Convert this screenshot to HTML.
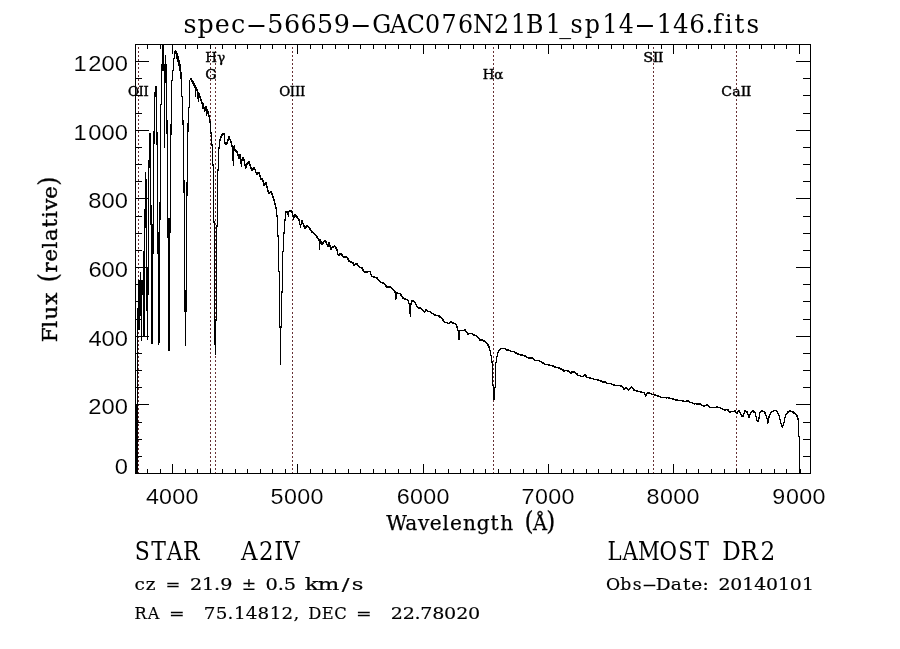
<!DOCTYPE html>
<html lang="en">
<head>
<meta charset="utf-8">
<title>spec-56659-GAC076N21B1_sp14-146.fits</title>
<style>
html,body{margin:0;padding:0;background:#fff;}
body{width:900px;height:649px;overflow:hidden;}
svg{display:block;}
</style>
</head>
<body>
<svg width="900" height="649" viewBox="0 0 900 649">
<rect width="900" height="649" fill="#fff"/>
<path d="M138.5 47v2m0 2v2m0 2v2m0 2v2m0 2v2m0 2v2m0 2v2m0 2v2m0 2v2m0 2v2m0 2v2m0 2v2m0 2v2m0 2v2m0 2v2m0 2v2m0 2v2m0 2v2m0 2v2m0 2v2m0 2v2m0 2v2m0 2v2m0 2v2m0 2v2m0 2v2m0 2v2m0 2v2m0 2v2m0 2v2m0 2v2m0 2v2m0 2v2m0 2v2m0 2v2m0 2v2m0 2v2m0 2v2m0 2v2m0 2v2m0 2v2m0 2v2m0 2v2m0 2v2m0 2v2m0 2v2m0 2v2m0 2v2m0 2v2m0 2v2m0 2v2m0 2v2m0 2v2m0 2v2m0 2v2m0 2v2m0 2v2m0 2v2m0 2v2m0 2v2m0 2v2m0 2v2m0 2v2m0 2v2m0 2v2m0 2v2m0 3v2m0 2v2m0 2v2m0 2v2m0 2v2m0 2v2m0 2v2m0 2v2m0 2v2m0 2v2m0 2v2m0 2v2m0 2v2m0 2v2m0 2v2m0 2v2m0 2v2m0 2v2m0 2v2m0 2v2m0 2v2m0 2v2m0 2v2m0 2v2m0 2v2m0 2v2m0 2v2m0 2v2m0 2v2m0 2v2m0 2v2m0 2v2m0 2v2m0 2v2m0 2v2m0 2v2m0 2v2m0 2v2m0 2v2m0 2v2m0 2v2M210.5 47v2m0 2v2m0 2v2m0 2v2m0 2v2m0 2v2m0 2v2m0 2v2m0 2v2m0 2v2m0 2v2m0 2v2m0 2v2m0 2v2m0 2v2m0 2v2m0 2v2m0 2v2m0 2v2m0 2v2m0 2v2m0 2v2m0 2v2m0 2v2m0 2v2m0 2v2m0 2v2m0 2v2m0 2v2m0 2v2m0 2v2m0 2v2m0 2v2m0 2v2m0 2v2m0 2v2m0 2v2m0 2v2m0 2v2m0 2v2m0 2v2m0 2v2m0 2v2m0 2v2m0 2v2m0 2v2m0 2v2m0 2v2m0 2v2m0 2v2m0 2v2m0 2v2m0 2v2m0 2v2m0 2v2m0 2v2m0 2v2m0 2v2m0 2v2m0 2v2m0 2v2m0 2v2m0 2v2m0 2v2m0 2v2m0 2v2m0 3v2m0 2v2m0 2v2m0 2v2m0 2v2m0 2v2m0 2v2m0 2v2m0 2v2m0 2v2m0 2v2m0 2v2m0 2v2m0 2v2m0 2v2m0 2v2m0 2v2m0 2v2m0 2v2m0 2v2m0 2v2m0 2v2m0 2v2m0 2v2m0 2v2m0 2v2m0 2v2m0 2v2m0 2v2m0 2v2m0 2v2m0 2v2m0 2v2m0 2v2m0 2v2m0 2v2m0 2v2m0 2v2m0 2v2m0 2v2m0 2v2M215.5 47v2m0 2v2m0 2v2m0 2v2m0 2v2m0 2v2m0 2v2m0 2v2m0 2v2m0 2v2m0 2v2m0 2v2m0 2v2m0 2v2m0 2v2m0 2v2m0 2v2m0 2v2m0 2v2m0 2v2m0 2v2m0 2v2m0 2v2m0 2v2m0 2v2m0 2v2m0 2v2m0 2v2m0 2v2m0 2v2m0 2v2m0 2v2m0 2v2m0 2v2m0 2v2m0 2v2m0 2v2m0 2v2m0 2v2m0 2v2m0 2v2m0 2v2m0 2v2m0 2v2m0 2v2m0 2v2m0 2v2m0 2v2m0 2v2m0 2v2m0 2v2m0 2v2m0 2v2m0 2v2m0 2v2m0 2v2m0 2v2m0 2v2m0 2v2m0 2v2m0 2v2m0 2v2m0 2v2m0 2v2m0 2v2m0 2v2m0 3v2m0 2v2m0 2v2m0 2v2m0 2v2m0 2v2m0 2v2m0 2v2m0 2v2m0 2v2m0 2v2m0 2v2m0 2v2m0 2v2m0 2v2m0 2v2m0 2v2m0 2v2m0 2v2m0 2v2m0 2v2m0 2v2m0 2v2m0 2v2m0 2v2m0 2v2m0 2v2m0 2v2m0 2v2m0 2v2m0 2v2m0 2v2m0 2v2m0 2v2m0 2v2m0 2v2m0 2v2m0 2v2m0 2v2m0 2v2m0 2v2M292.5 47v2m0 2v2m0 2v2m0 2v2m0 2v2m0 2v2m0 2v2m0 2v2m0 2v2m0 2v2m0 2v2m0 2v2m0 2v2m0 2v2m0 2v2m0 2v2m0 2v2m0 2v2m0 2v2m0 2v2m0 2v2m0 2v2m0 2v2m0 2v2m0 2v2m0 2v2m0 2v2m0 2v2m0 2v2m0 2v2m0 2v2m0 2v2m0 2v2m0 2v2m0 2v2m0 2v2m0 2v2m0 2v2m0 2v2m0 2v2m0 2v2m0 2v2m0 2v2m0 2v2m0 2v2m0 2v2m0 2v2m0 2v2m0 2v2m0 2v2m0 2v2m0 2v2m0 2v2m0 2v2m0 2v2m0 2v2m0 2v2m0 2v2m0 2v2m0 2v2m0 2v2m0 2v2m0 2v2m0 2v2m0 2v2m0 2v2m0 3v2m0 2v2m0 2v2m0 2v2m0 2v2m0 2v2m0 2v2m0 2v2m0 2v2m0 2v2m0 2v2m0 2v2m0 2v2m0 2v2m0 2v2m0 2v2m0 2v2m0 2v2m0 2v2m0 2v2m0 2v2m0 2v2m0 2v2m0 2v2m0 2v2m0 2v2m0 2v2m0 2v2m0 2v2m0 2v2m0 2v2m0 2v2m0 2v2m0 2v2m0 2v2m0 2v2m0 2v2m0 2v2m0 2v2m0 2v2m0 2v2M493.5 47v2m0 2v2m0 2v2m0 2v2m0 2v2m0 2v2m0 2v2m0 2v2m0 2v2m0 2v2m0 2v2m0 2v2m0 2v2m0 2v2m0 2v2m0 2v2m0 2v2m0 2v2m0 2v2m0 2v2m0 2v2m0 2v2m0 2v2m0 2v2m0 2v2m0 2v2m0 2v2m0 2v2m0 2v2m0 2v2m0 2v2m0 2v2m0 2v2m0 2v2m0 2v2m0 2v2m0 2v2m0 2v2m0 2v2m0 2v2m0 2v2m0 2v2m0 2v2m0 2v2m0 2v2m0 2v2m0 2v2m0 2v2m0 2v2m0 2v2m0 2v2m0 2v2m0 2v2m0 2v2m0 2v2m0 2v2m0 2v2m0 2v2m0 2v2m0 2v2m0 2v2m0 2v2m0 2v2m0 2v2m0 2v2m0 2v2m0 3v2m0 2v2m0 2v2m0 2v2m0 2v2m0 2v2m0 2v2m0 2v2m0 2v2m0 2v2m0 2v2m0 2v2m0 2v2m0 2v2m0 2v2m0 2v2m0 2v2m0 2v2m0 2v2m0 2v2m0 2v2m0 2v2m0 2v2m0 2v2m0 2v2m0 2v2m0 2v2m0 2v2m0 2v2m0 2v2m0 2v2m0 2v2m0 2v2m0 2v2m0 2v2m0 2v2m0 2v2m0 2v2m0 2v2m0 2v2m0 2v2M653.5 47v2m0 2v2m0 2v2m0 2v2m0 2v2m0 2v2m0 2v2m0 2v2m0 2v2m0 2v2m0 2v2m0 2v2m0 2v2m0 2v2m0 2v2m0 2v2m0 2v2m0 2v2m0 2v2m0 2v2m0 2v2m0 2v2m0 2v2m0 2v2m0 2v2m0 2v2m0 2v2m0 2v2m0 2v2m0 2v2m0 2v2m0 2v2m0 2v2m0 2v2m0 2v2m0 2v2m0 2v2m0 2v2m0 2v2m0 2v2m0 2v2m0 2v2m0 2v2m0 2v2m0 2v2m0 2v2m0 2v2m0 2v2m0 2v2m0 2v2m0 2v2m0 2v2m0 2v2m0 2v2m0 2v2m0 2v2m0 2v2m0 2v2m0 2v2m0 2v2m0 2v2m0 2v2m0 2v2m0 2v2m0 2v2m0 2v2m0 3v2m0 2v2m0 2v2m0 2v2m0 2v2m0 2v2m0 2v2m0 2v2m0 2v2m0 2v2m0 2v2m0 2v2m0 2v2m0 2v2m0 2v2m0 2v2m0 2v2m0 2v2m0 2v2m0 2v2m0 2v2m0 2v2m0 2v2m0 2v2m0 2v2m0 2v2m0 2v2m0 2v2m0 2v2m0 2v2m0 2v2m0 2v2m0 2v2m0 2v2m0 2v2m0 2v2m0 2v2m0 2v2m0 2v2m0 2v2m0 2v2M736.5 47v2m0 2v2m0 2v2m0 2v2m0 2v2m0 2v2m0 2v2m0 2v2m0 2v2m0 2v2m0 2v2m0 2v2m0 2v2m0 2v2m0 2v2m0 2v2m0 2v2m0 2v2m0 2v2m0 2v2m0 2v2m0 2v2m0 2v2m0 2v2m0 2v2m0 2v2m0 2v2m0 2v2m0 2v2m0 2v2m0 2v2m0 2v2m0 2v2m0 2v2m0 2v2m0 2v2m0 2v2m0 2v2m0 2v2m0 2v2m0 2v2m0 2v2m0 2v2m0 2v2m0 2v2m0 2v2m0 2v2m0 2v2m0 2v2m0 2v2m0 2v2m0 2v2m0 2v2m0 2v2m0 2v2m0 2v2m0 2v2m0 2v2m0 2v2m0 2v2m0 2v2m0 2v2m0 2v2m0 2v2m0 2v2m0 2v2m0 3v2m0 2v2m0 2v2m0 2v2m0 2v2m0 2v2m0 2v2m0 2v2m0 2v2m0 2v2m0 2v2m0 2v2m0 2v2m0 2v2m0 2v2m0 2v2m0 2v2m0 2v2m0 2v2m0 2v2m0 2v2m0 2v2m0 2v2m0 2v2m0 2v2m0 2v2m0 2v2m0 2v2m0 2v2m0 2v2m0 2v2m0 2v2m0 2v2m0 2v2m0 2v2m0 2v2m0 2v2m0 2v2m0 2v2m0 2v2m0 2v2" fill="none" stroke="#663034" stroke-width="1" shape-rendering="crispEdges"/>
<path d="M135.5 44.5H810.5V473.5H135.5ZM147.5 473.0v-4M147.5 45.0v4M160.5 473.0v-4M160.5 45.0v4M172.5 473.0v-9M172.5 45.0v9M185.5 473.0v-4M185.5 45.0v4M197.5 473.0v-4M197.5 45.0v4M210.5 473.0v-4M210.5 45.0v4M222.5 473.0v-4M222.5 45.0v4M235.5 473.0v-4M235.5 45.0v4M247.5 473.0v-4M247.5 45.0v4M260.5 473.0v-4M260.5 45.0v4M272.5 473.0v-4M272.5 45.0v4M285.5 473.0v-4M285.5 45.0v4M297.5 473.0v-9M297.5 45.0v9M310.5 473.0v-4M310.5 45.0v4M322.5 473.0v-4M322.5 45.0v4M335.5 473.0v-4M335.5 45.0v4M348.5 473.0v-4M348.5 45.0v4M360.5 473.0v-4M360.5 45.0v4M373.5 473.0v-4M373.5 45.0v4M385.5 473.0v-4M385.5 45.0v4M398.5 473.0v-4M398.5 45.0v4M410.5 473.0v-4M410.5 45.0v4M423.5 473.0v-9M423.5 45.0v9M435.5 473.0v-4M435.5 45.0v4M448.5 473.0v-4M448.5 45.0v4M460.5 473.0v-4M460.5 45.0v4M473.5 473.0v-4M473.5 45.0v4M485.5 473.0v-4M485.5 45.0v4M498.5 473.0v-4M498.5 45.0v4M510.5 473.0v-4M510.5 45.0v4M523.5 473.0v-4M523.5 45.0v4M536.5 473.0v-4M536.5 45.0v4M548.5 473.0v-9M548.5 45.0v9M561.5 473.0v-4M561.5 45.0v4M573.5 473.0v-4M573.5 45.0v4M586.5 473.0v-4M586.5 45.0v4M598.5 473.0v-4M598.5 45.0v4M611.5 473.0v-4M611.5 45.0v4M623.5 473.0v-4M623.5 45.0v4M636.5 473.0v-4M636.5 45.0v4M648.5 473.0v-4M648.5 45.0v4M661.5 473.0v-4M661.5 45.0v4M673.5 473.0v-9M673.5 45.0v9M686.5 473.0v-4M686.5 45.0v4M698.5 473.0v-4M698.5 45.0v4M711.5 473.0v-4M711.5 45.0v4M724.5 473.0v-4M724.5 45.0v4M736.5 473.0v-4M736.5 45.0v4M749.5 473.0v-4M749.5 45.0v4M761.5 473.0v-4M761.5 45.0v4M774.5 473.0v-4M774.5 45.0v4M786.5 473.0v-4M786.5 45.0v4M799.5 473.0v-9M799.5 45.0v9M136.0 456.5h6M810.0 456.5h-7M136.0 439.5h6M810.0 439.5h-7M136.0 422.5h6M810.0 422.5h-7M136.0 404.5h13M810.0 404.5h-14M136.0 387.5h6M810.0 387.5h-7M136.0 370.5h6M810.0 370.5h-7M136.0 353.5h6M810.0 353.5h-7M136.0 336.5h13M810.0 336.5h-14M136.0 319.5h6M810.0 319.5h-7M136.0 301.5h6M810.0 301.5h-7M136.0 284.5h6M810.0 284.5h-7M136.0 267.5h13M810.0 267.5h-14M136.0 250.5h6M810.0 250.5h-7M136.0 233.5h6M810.0 233.5h-7M136.0 216.5h6M810.0 216.5h-7M136.0 198.5h13M810.0 198.5h-14M136.0 181.5h6M810.0 181.5h-7M136.0 164.5h6M810.0 164.5h-7M136.0 147.5h6M810.0 147.5h-7M136.0 130.5h13M810.0 130.5h-14M136.0 113.5h6M810.0 113.5h-7M136.0 95.5h6M810.0 95.5h-7M136.0 78.5h6M810.0 78.5h-7M136.0 61.5h13M810.0 61.5h-14" fill="none" stroke="#000" stroke-width="1" shape-rendering="crispEdges"/>
<path d="M136.5 404v69M137.5 308v165M138.5 280v50M139.5 280v50M140.5 272v44M141.5 280v61M142.5 280v15M143.5 251v86M144.5 209v128M145.5 172v56M146.5 179v132M147.5 268v72M148.5 160v135M149.5 133v35M150.5 133v92M151.5 205v139M152.5 224v120M153.5 131v123M154.5 92v52M155.5 86v11M156.5 86v59M157.5 132v122M158.5 232v113M159.5 202v141M160.5 104v116M161.5 64v41M162.5 45v26M163.5 45v26M164.5 64v84M165.5 55v28M166.5 64v70M167.5 120v118M168.5 218v133M169.5 218v133M170.5 124v109M171.5 80v55M172.5 70v11M173.5 58v13M174.5 51v8M175.5 50v4M176.5 51v8M177.5 53v9M178.5 56v10M179.5 60v11M180.5 64v15M181.5 72v25M182.5 96v29M183.5 120v73M184.5 180v132M185.5 290v56M186.5 182v130M187.5 123v73M188.5 107v25M189.5 80v28M190.5 78v2M191.5 78v4M192.5 80v4M193.5 81v5M194.5 83v5M195.5 85v12M196.5 87v4M197.5 89v10M198.5 92v10M199.5 93v5M200.5 96v5M201.5 99v5M202.5 102v7M203.5 103v6M204.5 107v5M205.5 106v5M206.5 106v10M207.5 109v5M208.5 111v6M209.5 115v8M210.5 121v13M211.5 132v14M212.5 144v22M213.5 164v59M214.5 221v124M215.5 319v36M216.5 225v96M217.5 169v58M218.5 147v24M219.5 139v10M220.5 136v5M221.5 134v4M222.5 133v3M223.5 133v2M224.5 133v11M225.5 142v3M226.5 142v3M227.5 139v5M228.5 136v5M229.5 136v4M230.5 139v4M231.5 141v6M232.5 145v16M233.5 146v20M234.5 145v6M235.5 149v3M236.5 150v3M237.5 151v5M238.5 154v5M239.5 154v5M240.5 154v10M241.5 159v8M242.5 157v4M243.5 157v4M244.5 159v7M245.5 164v5M246.5 163v5M247.5 162v3M248.5 161v3M249.5 161v5M250.5 164v5M251.5 167v4M252.5 168v3M253.5 167v3M254.5 167v3M255.5 169v4M256.5 172v3M257.5 172v3M258.5 172v2M259.5 172v5M260.5 175v5M261.5 178v2M262.5 178v4M263.5 180v6M264.5 183v3M265.5 182v3M266.5 182v6M267.5 186v6M268.5 190v4M269.5 192v2M270.5 191v2M271.5 191v4M272.5 193v5M273.5 196v5M274.5 199v6M275.5 203v6M276.5 207v10M277.5 215v22M278.5 235v37M279.5 271v57M280.5 326v39M281.5 291v37M282.5 251v42M283.5 232v20M284.5 219v15M285.5 211v10M286.5 211v2M287.5 211v4M288.5 211v6M289.5 210v2M290.5 210v2M291.5 210v3M292.5 211v6M293.5 215v5M294.5 214v4M295.5 214v3M296.5 215v3M297.5 216v3M298.5 218v3M299.5 219v6M300.5 224v4M301.5 220v5M302.5 220v4M303.5 223v4M304.5 225v4M305.5 226v3M306.5 225v3M307.5 225v2M308.5 226v2M309.5 227v3M310.5 228v3M311.5 230v3M312.5 231v2M313.5 232v2M314.5 233v2M315.5 234v2M316.5 235v3M317.5 236v3M318.5 238v3M319.5 239v11M320.5 239v5M321.5 241v4M322.5 242v3M323.5 241v3M324.5 240v2M325.5 240v3M326.5 241v4M327.5 244v3M328.5 242v5M329.5 242v5M330.5 245v5M331.5 247v3M332.5 246v2M333.5 246v2M334.5 245v2M335.5 246v3M336.5 247v4M337.5 249v6M338.5 254v2M339.5 253v3M340.5 253v2M341.5 253v3M342.5 254v3M343.5 256v2M344.5 256v2M345.5 256v2M346.5 256v2M347.5 257v3M348.5 258v4M349.5 260v2M350.5 261v2M351.5 261v2M352.5 262v2M353.5 262v4M354.5 264v2M355.5 263v2M356.5 263v2M357.5 263v3M358.5 265v2M359.5 266v2M360.5 267v1M361.5 267v2M362.5 267v4M363.5 269v3M364.5 271v2M365.5 271v2M366.5 271v2M367.5 271v2M368.5 271v1M369.5 271v1M370.5 271v4M371.5 274v3M372.5 276v1M373.5 276v2M374.5 276v2M375.5 277v1M376.5 277v2M377.5 277v3M378.5 279v2M379.5 280v2M380.5 281v2M381.5 282v1M382.5 282v2M383.5 282v2M384.5 283v2M385.5 284v3M386.5 285v3M387.5 286v2M388.5 286v2M389.5 286v2M390.5 286v2M391.5 287v2M392.5 288v2M393.5 289v2M394.5 290v3M395.5 291v9M396.5 292v7M397.5 292v2M398.5 293v1M399.5 293v1M400.5 293v3M401.5 294v3M402.5 296v3M403.5 297v2M404.5 298v2M405.5 298v2M406.5 299v1M407.5 299v2M408.5 300v4M409.5 303v11M410.5 303v14M411.5 300v5M412.5 300v2M413.5 300v2M414.5 301v2M415.5 302v3M416.5 304v3M417.5 306v2M418.5 307v2M419.5 307v2M420.5 307v2M421.5 308v2M422.5 309v2M423.5 310v2M424.5 311v2M425.5 309v3M426.5 309v2M427.5 310v2M428.5 311v1M429.5 311v1M430.5 311v2M431.5 312v2M432.5 313v1M433.5 313v2M434.5 314v2M435.5 314v2M436.5 315v1M437.5 315v1M438.5 315v2M439.5 315v3M440.5 316v2M441.5 317v2M442.5 318v3M443.5 319v3M444.5 321v2M445.5 322v1M446.5 322v1M447.5 322v2M448.5 323v1M449.5 322v2M450.5 321v2M451.5 321v2M452.5 322v2M453.5 322v2M454.5 323v1M455.5 323v2M456.5 324v4M457.5 326v5M458.5 330v10M459.5 330v10M460.5 330v1M461.5 330v1M462.5 330v1M463.5 330v1M464.5 329v2M465.5 329v3M466.5 331v2M467.5 332v3M468.5 333v2M469.5 333v1M470.5 333v1M471.5 333v1M472.5 333v2M473.5 334v2M474.5 334v2M475.5 335v1M476.5 335v2M477.5 336v2M478.5 337v2M479.5 338v3M480.5 339v2M481.5 339v2M482.5 339v2M483.5 340v2M484.5 340v2M485.5 341v2M486.5 342v2M487.5 343v3M488.5 344v4M489.5 346v5M490.5 350v6M491.5 355v8M492.5 361v25M493.5 385v15M494.5 387v13M495.5 362v26M496.5 356v7M497.5 352v5M498.5 350v3M499.5 349v2M500.5 348v2M501.5 348v1M502.5 348v1M503.5 348v1M504.5 348v1M505.5 348v2M506.5 349v2M507.5 349v2M508.5 349v2M509.5 350v1M510.5 350v2M511.5 351v1M512.5 351v1M513.5 351v1M514.5 351v2M515.5 352v2M516.5 352v2M517.5 353v2M518.5 353v2M519.5 354v1M520.5 354v2M521.5 354v2M522.5 354v2M523.5 355v1M524.5 355v2M525.5 355v2M526.5 356v2M527.5 357v1M528.5 357v2M529.5 357v2M530.5 357v2M531.5 357v2M532.5 357v2M533.5 358v2M534.5 359v2M535.5 360v1M536.5 360v1M537.5 360v1M538.5 360v1M539.5 360v2M540.5 361v1M541.5 361v2M542.5 362v2M543.5 362v2M544.5 363v2M545.5 364v1M546.5 364v1M547.5 364v1M548.5 364v2M549.5 364v2M550.5 365v1M551.5 365v1M552.5 365v2M553.5 365v2M554.5 366v2M555.5 366v2M556.5 367v1M557.5 367v1M558.5 367v2M559.5 367v2M560.5 368v2M561.5 368v2M562.5 369v2M563.5 369v3M564.5 370v2M565.5 370v1M566.5 370v1M567.5 370v2M568.5 370v2M569.5 371v2M570.5 372v2M571.5 371v3M572.5 371v2M573.5 371v2M574.5 371v2M575.5 372v2M576.5 373v2M577.5 373v3M578.5 375v1M579.5 375v1M580.5 375v2M581.5 376v1M582.5 376v1M583.5 375v2M584.5 374v2M585.5 374v3M586.5 375v3M587.5 377v1M588.5 377v1M589.5 377v2M590.5 377v2M591.5 378v1M592.5 378v1M593.5 378v2M594.5 379v1M595.5 379v1M596.5 379v1M597.5 379v2M598.5 379v2M599.5 380v1M600.5 380v2M601.5 380v2M602.5 381v2M603.5 381v2M604.5 381v2M605.5 381v2M606.5 382v2M607.5 383v1M608.5 383v1M609.5 383v1M610.5 383v1M611.5 383v2M612.5 384v1M613.5 384v2M614.5 384v2M615.5 385v1M616.5 385v1M617.5 385v1M618.5 385v1M619.5 385v1M620.5 385v2M621.5 385v2M622.5 386v2M623.5 387v3M624.5 388v2M625.5 387v2M626.5 387v2M627.5 388v2M628.5 389v2M629.5 388v2M630.5 387v2M631.5 386v2M632.5 387v2M633.5 388v3M634.5 389v2M635.5 390v1M636.5 390v2M637.5 390v2M638.5 391v1M639.5 391v1M640.5 391v2M641.5 391v2M642.5 392v1M643.5 392v1M644.5 392v3M645.5 394v3M646.5 393v3M647.5 392v2M648.5 392v2M649.5 392v2M650.5 393v1M651.5 393v2M652.5 394v1M653.5 394v1M654.5 394v2M655.5 394v2M656.5 395v1M657.5 395v2M658.5 395v2M659.5 396v1M660.5 396v2M661.5 397v1M662.5 397v1M663.5 397v1M664.5 397v1M665.5 397v1M666.5 397v2M667.5 397v1M668.5 397v2M669.5 397v2M670.5 398v1M671.5 398v1M672.5 398v2M673.5 398v2M674.5 399v1M675.5 399v2M676.5 399v2M677.5 399v2M678.5 400v1M679.5 400v1M680.5 400v1M681.5 400v1M682.5 400v2M683.5 400v2M684.5 401v1M685.5 401v1M686.5 400v2M687.5 400v2M688.5 400v2M689.5 401v2M690.5 402v1M691.5 402v1M692.5 402v2M693.5 403v1M694.5 403v2M695.5 403v1M696.5 403v2M697.5 403v2M698.5 403v2M699.5 403v2M700.5 403v2M701.5 404v2M702.5 405v1M703.5 405v2M704.5 405v2M705.5 405v1M706.5 404v2M707.5 404v2M708.5 405v2M709.5 406v2M710.5 407v1M711.5 407v1M712.5 407v1M713.5 407v1M714.5 407v1M715.5 407v1M716.5 406v2M717.5 406v2M718.5 407v1M719.5 407v1M720.5 407v2M721.5 408v1M722.5 408v2M723.5 409v1M724.5 409v2M725.5 409v2M726.5 409v1M727.5 409v2M728.5 409v3M729.5 411v2M730.5 411v2M731.5 411v1M732.5 411v1M733.5 411v1M734.5 410v2M735.5 410v3M736.5 412v2M737.5 411v3M738.5 410v2M739.5 410v3M740.5 412v3M741.5 414v3M742.5 415v2M743.5 413v4M744.5 410v4M745.5 410v2M746.5 411v2M747.5 411v4M748.5 414v4M749.5 414v4M750.5 412v3M751.5 411v2M752.5 410v2M753.5 410v3M754.5 411v2M755.5 412v5M756.5 416v5M757.5 420v2M758.5 417v5M759.5 412v7M760.5 411v2M761.5 410v2M762.5 410v2M763.5 411v1M764.5 411v3M765.5 412v4M766.5 415v4M767.5 418v6M768.5 416v7M769.5 414v4M770.5 412v3M771.5 411v2M772.5 411v1M773.5 410v2M774.5 410v1M775.5 410v1M776.5 410v2M777.5 411v3M778.5 413v3M779.5 415v5M780.5 419v5M781.5 423v4M782.5 425v3M783.5 422v4M784.5 417v6M785.5 414v4M786.5 413v2M787.5 411v3M788.5 411v2M789.5 410v2M790.5 410v2M791.5 411v1M792.5 411v2M793.5 411v3M794.5 412v2M795.5 413v2M796.5 414v3M797.5 415v5M798.5 418v19M799.5 436v37M800.5 469v4" fill="none" stroke="#000" stroke-width="1" shape-rendering="crispEdges"/>
<g fill="#000">
<text x="146.01 158.95 172.29 185.63" y="504.2" font-family="'Liberation Sans', sans-serif" font-size="22" stroke="#fff" stroke-width="0.1"><tspan textLength="51.88" lengthAdjust="spacingAndGlyphs">4000</tspan></text>
<text x="270.63 283.95 297.29 310.63" y="504.2" font-family="'Liberation Sans', sans-serif" font-size="22" stroke="#fff" stroke-width="0.1"><tspan textLength="51.88" lengthAdjust="spacingAndGlyphs">5000</tspan></text>
<text x="396.86 409.95 423.29 436.63" y="504.2" font-family="'Liberation Sans', sans-serif" font-size="22" stroke="#fff" stroke-width="0.1"><tspan textLength="51.88" lengthAdjust="spacingAndGlyphs">6000</tspan></text>
<text x="521.59 534.95 548.29 561.63" y="504.2" font-family="'Liberation Sans', sans-serif" font-size="22" stroke="#fff" stroke-width="0.1"><tspan textLength="51.88" lengthAdjust="spacingAndGlyphs">7000</tspan></text>
<text x="646.61 659.95 673.29 686.63" y="504.2" font-family="'Liberation Sans', sans-serif" font-size="22" stroke="#fff" stroke-width="0.1"><tspan textLength="51.88" lengthAdjust="spacingAndGlyphs">8000</tspan></text>
<text x="772.28 785.95 799.29 812.63" y="504.2" font-family="'Liberation Sans', sans-serif" font-size="22" stroke="#fff" stroke-width="0.1"><tspan textLength="51.88" lengthAdjust="spacingAndGlyphs">9000</tspan></text>
<text x="114.83" y="474.2" font-family="'Liberation Sans', sans-serif" font-size="22.4" stroke="#fff" stroke-width="0.1"><tspan textLength="13.21" lengthAdjust="spacingAndGlyphs">0</tspan></text>
<text x="88.15 101.49 114.83" y="413.6" font-family="'Liberation Sans', sans-serif" font-size="22.4" stroke="#fff" stroke-width="0.1"><tspan textLength="39.62" lengthAdjust="spacingAndGlyphs">200</tspan></text>
<text x="88.56 101.49 114.83" y="345.6" font-family="'Liberation Sans', sans-serif" font-size="22.4" stroke="#fff" stroke-width="0.1"><tspan textLength="39.62" lengthAdjust="spacingAndGlyphs">400</tspan></text>
<text x="88.4 101.49 114.83" y="276.6" font-family="'Liberation Sans', sans-serif" font-size="22.4" stroke="#fff" stroke-width="0.1"><tspan textLength="39.62" lengthAdjust="spacingAndGlyphs">600</tspan></text>
<text x="88.15 101.49 114.83" y="207.6" font-family="'Liberation Sans', sans-serif" font-size="22.4" stroke="#fff" stroke-width="0.1"><tspan textLength="39.62" lengthAdjust="spacingAndGlyphs">800</tspan></text>
<text x="73.48 88.15 101.49 114.83" y="139.6" font-family="'Liberation Sans', sans-serif" font-size="22.4" stroke="#fff" stroke-width="0.1"><tspan textLength="52.82" lengthAdjust="spacingAndGlyphs">1000</tspan></text>
<text x="73.48 88.15 101.49 114.83" y="70.6" font-family="'Liberation Sans', sans-serif" font-size="22.4" stroke="#fff" stroke-width="0.1"><tspan textLength="52.82" lengthAdjust="spacingAndGlyphs">1200</tspan></text>
<text x="183.51 197.55 214.84 230.9 245.78 267.32 283.91 300.45 316.94 333.63 349.97 372.16 390.12 406.66 425.1 441.49 458.12 473.05 494.08 510.91 526.11 545.64 559.34 570.62 584.73 602.53 618.65 634.26 656.87 672.98 689.24 705.59 713.28 724.84 734.49 746.55" y="32.9" font-family="'DejaVu Serif', 'Liberation Serif', serif" font-size="25.4">spec<tspan textLength="21.47" lengthAdjust="spacingAndGlyphs">-</tspan>56659<tspan textLength="21.47" lengthAdjust="spacingAndGlyphs">-</tspan><tspan textLength="252.59" lengthAdjust="spacingAndGlyphs">GAC076N21B1_sp14</tspan><tspan textLength="21.47" lengthAdjust="spacingAndGlyphs">-</tspan><tspan textLength="93.99" lengthAdjust="spacingAndGlyphs">146.fits</tspan></text>
<text x="386.38 405.25 417.93 429.7 442.59 449.98 463.1 476.75 490.59 500.38 516.6 524.54 532.89 546.32" y="529.5" font-family="'DejaVu Serif', 'Liberation Serif', serif" font-size="19.5" stroke="#000" stroke-width="0.25"><tspan textLength="121.23" lengthAdjust="spacingAndGlyphs">Wavelength</tspan> <tspan font-size="25.4" textLength="9.09" lengthAdjust="spacingAndGlyphs">(</tspan>Å<tspan font-size="25.4" textLength="9.08" lengthAdjust="spacingAndGlyphs">)</tspan></text>
<text transform="translate(56.8 341.3) rotate(-90)" x="-1.07 13.57 21.62 36.44 51.14 59.14 68.77 79.72 92.75 100.37 113.89 123.34 130.75 142.5 155.48" y="0" font-family="'DejaVu Serif', 'Liberation Serif', serif" font-size="19.8" stroke="#000" stroke-width="0.35"><tspan textLength="47.84" lengthAdjust="spacingAndGlyphs">Flux</tspan> <tspan font-size="25.7" textLength="9.06" lengthAdjust="spacingAndGlyphs">(</tspan><tspan textLength="82.02" lengthAdjust="spacingAndGlyphs">relative</tspan><tspan font-size="25.7" textLength="9.04" lengthAdjust="spacingAndGlyphs">)</tspan></text>
<text x="134.75 151.23 166.75 182.99 203.84 241.02 258.98 274.24 283.29" y="559.8" font-family="'DejaVu Serif', 'Liberation Serif', serif" font-size="25.4"><tspan textLength="62.11" lengthAdjust="spacingAndGlyphs">STAR</tspan> <tspan textLength="56.66" lengthAdjust="spacingAndGlyphs">A2IV</tspan></text>
<text x="607.46 622.45 637.92 659.53 678.25 694.7 712.26 722.36 740.61 760.61" y="559.8" font-family="'DejaVu Serif', 'Liberation Serif', serif" font-size="25.4"><tspan textLength="97.61" lengthAdjust="spacingAndGlyphs">LAMOST</tspan> <tspan textLength="50.75" lengthAdjust="spacingAndGlyphs">DR2</tspan></text>
<text x="134.49 145.82 158.1 165.6 182.51 190.14 201.95 214.04 220.25 234.31 241.75 258.13 265.42 277.72 283.8 298.02 304.75 317.82 341.86 351.7" y="589.5" font-family="'DejaVu Serif', 'Liberation Serif', serif" font-size="17.2" stroke="#000" stroke-width="0.2"><tspan textLength="20.07" lengthAdjust="spacingAndGlyphs">cz</tspan> <tspan textLength="14.89" lengthAdjust="spacingAndGlyphs">=</tspan> <tspan textLength="42.8" lengthAdjust="spacingAndGlyphs">21.9</tspan> ± <tspan textLength="30.8" lengthAdjust="spacingAndGlyphs">0.5</tspan> <tspan textLength="54.84" lengthAdjust="spacingAndGlyphs">km/s</tspan></text>
<text x="605.99 620.22 632.69 642.1 655.89 670.68 682.91 691.16 702.45 710.89 718.64 730.27 742.36 754.26 765.99 778.08 789.81 801.9" y="589.5" font-family="'DejaVu Serif', 'Liberation Serif', serif" font-size="17.2" stroke="#000" stroke-width="0.2">Obs<tspan textLength="15.03" lengthAdjust="spacingAndGlyphs">-</tspan><tspan textLength="50.64" lengthAdjust="spacingAndGlyphs">Date:</tspan> <tspan textLength="95.76" lengthAdjust="spacingAndGlyphs">20140101</tspan></text>
<text x="134.52 147.87 161.69 169.08 186.69 203.73 215.67 227.59 234.08 245.69 257.42 269.81 281.51 293.64 301.01 308.23 321.8 334.14 348.64 356.04 373.65 390.83 402.74 414.42 420.2 432.22 444.13 456.32 467.95" y="619.3" font-family="'DejaVu Serif', 'Liberation Serif', serif" font-size="17.2" stroke="#000" stroke-width="0.15"><tspan textLength="23.69" lengthAdjust="spacingAndGlyphs">RA</tspan> <tspan textLength="15.68" lengthAdjust="spacingAndGlyphs">=</tspan> <tspan textLength="93.39" lengthAdjust="spacingAndGlyphs">75.14812,</tspan> <tspan textLength="37.53" lengthAdjust="spacingAndGlyphs">DEC</tspan> <tspan textLength="15.68" lengthAdjust="spacingAndGlyphs">=</tspan> <tspan textLength="91.29" lengthAdjust="spacingAndGlyphs">22.78020</tspan></text>
<text x="127.94 138.44 143.55" y="96" font-family="'DejaVu Serif', 'Liberation Serif', serif" font-size="13.4" stroke="#000" stroke-width="0.4">OII</text>
<text x="205.19 217.13" y="62" font-family="'DejaVu Serif', 'Liberation Serif', serif" font-size="13.4" stroke="#000" stroke-width="0.4">Hγ</text>
<text x="205.26" y="78.6" font-family="'DejaVu Serif', 'Liberation Serif', serif" font-size="13.4" stroke="#000" stroke-width="0.4"><tspan textLength="11.27" lengthAdjust="spacingAndGlyphs">G</tspan></text>
<text x="279.26 289.82 294.93 300.05" y="96" font-family="'DejaVu Serif', 'Liberation Serif', serif" font-size="13.4" stroke="#000" stroke-width="0.4">OIII</text>
<text x="482.72 494.36" y="78.8" font-family="'DejaVu Serif', 'Liberation Serif', serif" font-size="13.4" stroke="#000" stroke-width="0.4">Hα</text>
<text x="643.31 652.71 657.82" y="62" font-family="'DejaVu Serif', 'Liberation Serif', serif" font-size="13.4" stroke="#000" stroke-width="0.4"><tspan textLength="21.54" lengthAdjust="spacingAndGlyphs">SII</tspan></text>
<text x="721.37 732.15 740.69 745.81" y="96.4" font-family="'DejaVu Serif', 'Liberation Serif', serif" font-size="13.4" stroke="#000" stroke-width="0.4"><tspan textLength="30.31" lengthAdjust="spacingAndGlyphs">CaII</tspan></text>
</g>
</svg>
</body>
</html>
